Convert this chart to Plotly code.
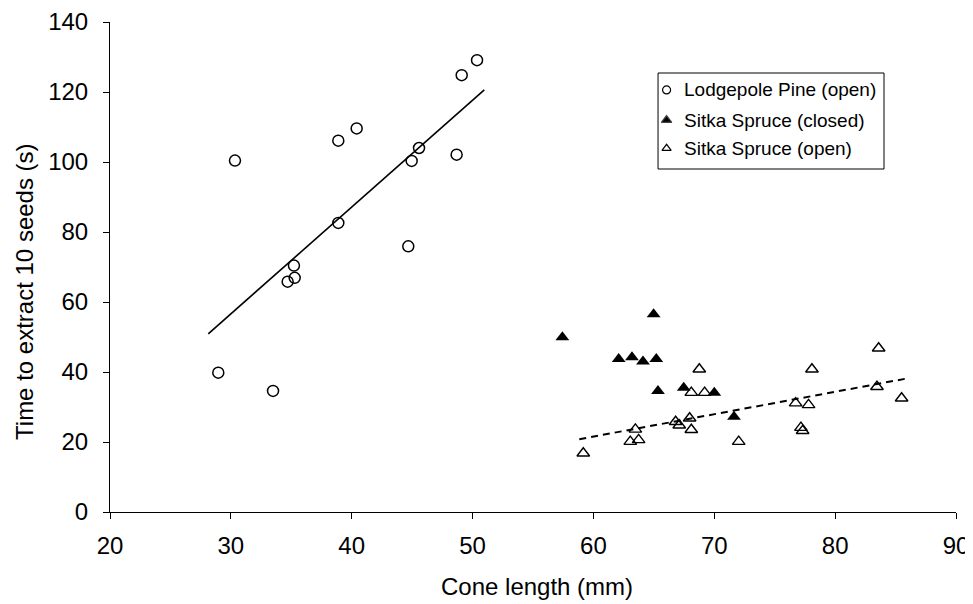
import plotly.graph_objects as go

# Lodgepole Pine (open)
lp_x = [30.34, 38.89, 40.41, 45.57, 44.96, 48.68, 49.10, 50.37, 38.89, 44.68, 35.22, 35.28, 34.70, 28.96, 33.49]
lp_y = [100.4, 106.1, 109.6, 104.0, 100.3, 102.1, 124.8, 129.1, 82.6, 75.9, 70.4, 66.9, 65.8, 39.8, 34.6]

# Sitka Spruce (closed)
ssc_x = [57.43, 64.98, 62.09, 63.19, 64.10, 65.20, 65.34, 67.47, 70.00, 71.63]
ssc_y = [49.9, 56.5, 43.7, 44.2, 43.0, 43.7, 34.6, 35.5, 34.1, 27.2]

# Sitka Spruce (open)
sso_x = [59.16, 63.47, 63.05, 63.74, 66.80, 67.10, 67.96, 68.10, 68.10, 68.76,
         69.20, 72.02, 76.73, 77.17, 77.31, 77.80, 78.08, 83.60, 83.46, 85.50]
sso_y = [16.8, 23.6, 20.1, 20.6, 25.8, 24.8, 26.8, 23.5, 34.1, 40.8,
         34.1, 20.1, 31.1, 24.1, 23.2, 30.6, 40.8, 46.8, 35.8, 32.5]

# Trend lines (end points)
lp_trend_x = [28.13, 50.97]
lp_trend_y = [50.9, 120.6]
sso_trend_x = [58.83, 85.86]
sso_trend_y = [20.8, 38.1]

legend_names = ["Lodgepole Pine (open)", "Sitka Spruce (closed)", "Sitka Spruce (open)"]
legend_symbols = ["circle-open", "triangle-up", "triangle-up-open"]

x_title = "Cone length (mm)"
y_title = "Time to extract 10 seeds (s)"

FONT = "Arial, Liberation Sans, sans-serif"

fig = go.Figure()

fig.add_trace(go.Scatter(x=lp_trend_x, y=lp_trend_y, mode="lines",
                         line=dict(color="black", width=1.6), showlegend=False, hoverinfo="skip"))
fig.add_trace(go.Scatter(x=sso_trend_x, y=sso_trend_y, mode="lines",
                         line=dict(color="black", width=2, dash="7px,5px"), showlegend=False, hoverinfo="skip"))

fig.add_trace(go.Scatter(x=lp_x, y=lp_y, mode="markers", showlegend=False, name=legend_names[0],
                         marker=dict(symbol="circle-open", size=11, color="black", line=dict(width=1.5))))
fig.add_trace(go.Scatter(x=ssc_x, y=ssc_y, mode="markers", showlegend=False, name=legend_names[1],
                         marker=dict(symbol="triangle-up", size=12, color="black", line=dict(width=0))))
fig.add_trace(go.Scatter(x=sso_x, y=sso_y, mode="markers", showlegend=False, name=legend_names[2],
                         marker=dict(symbol="triangle-up-open", size=11, color="black", line=dict(width=1.4))))

# Manual legend: box, symbols (on an overlay axis spanning the plot area) and labels
lx0, lx1, ly0, ly1 = 0.6478, 0.9149, 0.700, 0.8959
row_y = [0.8613, 0.7999, 0.7422]
sym_x = 0.6579
txt_x = 0.6765
sym_sizes = [8, 9, 8]
fig.add_shape(type="rect", xref="paper", yref="paper", x0=lx0, x1=lx1, y0=ly0, y1=ly1,
              line=dict(color="black", width=1), fillcolor="white", layer="below")
for name, sym, yy, sz in zip(legend_names, legend_symbols, row_y, sym_sizes):
    fig.add_trace(go.Scatter(x=[sym_x], y=[yy], xaxis="x2", yaxis="y2", mode="markers",
                             showlegend=False, hoverinfo="skip",
                             marker=dict(symbol=sym, size=sz, color="black", line=dict(width=1.2))))
    fig.add_annotation(xref="paper", yref="paper", x=txt_x, y=yy, text=name, showarrow=False,
                       xanchor="left", yanchor="middle", font=dict(family=FONT, size=19, color="black"))

# Axis titles
fig.add_annotation(xref="paper", yref="paper", x=0.5047, y=-0.153, text=x_title, showarrow=False,
                   xanchor="center", yanchor="middle", font=dict(family=FONT, size=24, color="black"))
fig.add_annotation(xref="paper", yref="paper", x=-0.1017, y=0.451, text=y_title, showarrow=False,
                   textangle=-90, xanchor="center", yanchor="middle",
                   font=dict(family=FONT, size=24, color="black"))

# The page body has an 8px default margin, so the figure is sized/offset to fit the window
fig.update_layout(
    width=965, height=596,
    margin=dict(l=102, r=17, t=14, b=92),
    paper_bgcolor="white", plot_bgcolor="white",
    font=dict(family=FONT, size=24, color="black"),
    showlegend=False,
    xaxis=dict(range=[20, 90], dtick=10, tick0=20, showgrid=False, zeroline=False,
               showline=True, linecolor="black", linewidth=1, automargin=False,
               ticks="outside", ticklen=6, tickcolor="black", tickwidth=1,
               ticklabelstandoff=6, tickfont=dict(size=24)),
    yaxis=dict(range=[0, 140], dtick=20, showgrid=False, zeroline=False,
               showline=True, linecolor="black", linewidth=1, automargin=False,
               ticks="outside", ticklen=6, tickcolor="black", tickwidth=1,
               ticklabelstandoff=10, tickfont=dict(size=24)),
    xaxis2=dict(range=[0, 1], overlaying="x", visible=False, fixedrange=True),
    yaxis2=dict(range=[0, 1], overlaying="y", visible=False, fixedrange=True),
)

fig.write_html("out.html")
